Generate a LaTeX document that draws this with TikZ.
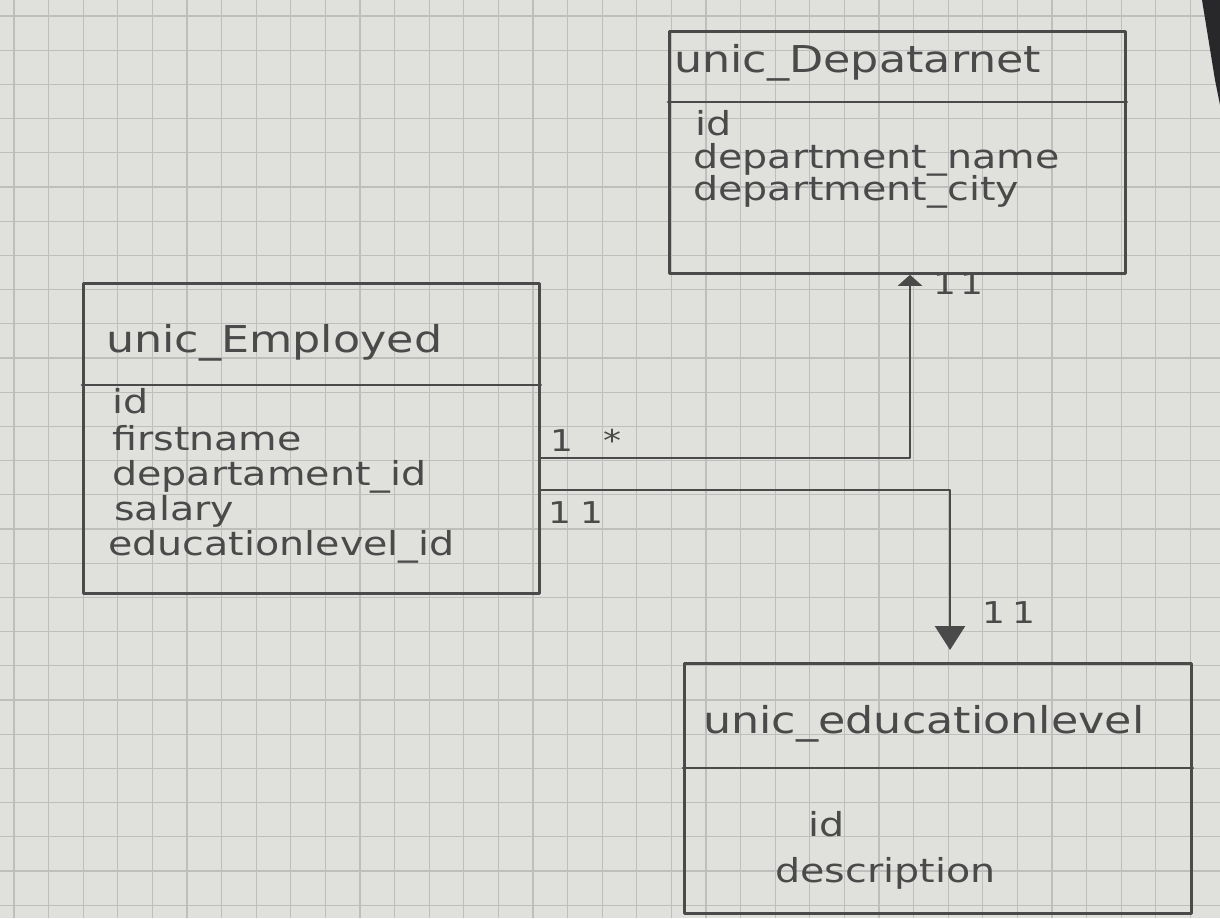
\documentclass[tikz,border=0pt]{standalone}
\usepackage{fontspec}
\setmainfont[FakeStretch=1.2]{DejaVu Sans}
\usetikzlibrary{arrows.meta}
\definecolor{paper}{RGB}{224,224,221}
\definecolor{gridline}{RGB}{190,190,188}
\definecolor{pencil}{RGB}{74,74,74}
\definecolor{deskedge}{RGB}{40,40,42}

\begin{document}
\begin{tikzpicture}[x=1pt,y=-1pt,
  pencilline/.style={draw=pencil, line width=2.8pt, line cap=round, line join=round},
  classbox/.style={pencilline, rectangle, inner sep=0pt, anchor=north west},
  title/.style={text=pencil, inner sep=0pt, anchor=base west, font=\fontsize{37}{37}\selectfont},
  attr/.style={text=pencil, inner sep=0pt, anchor=base west, font=\fontsize{33}{33}\selectfont},
  mult/.style={text=pencil, inner sep=0pt, anchor=base west, font=\fontsize{30}{30}\selectfont},
  assoc/.style={pencilline, -{Triangle[width=24pt,length=11pt]}},
  assocbig/.style={pencilline, -{Triangle[width=30pt,length=24pt]}, shorten >=12pt}]

\useasboundingbox (0,0) rectangle (1220,918);

% squared paper
\fill[paper] (0,0) rectangle (1220,918);
\foreach \k in {0,...,35}
  \draw[gridline, line width=1.1pt] ({14+34.6*\k},0) -- ({14+34.6*\k},918);
\foreach \k in {0,...,27}
  \draw[gridline, line width=1.1pt] (0,{16+34.2*\k}) -- (1220,{16+34.2*\k});
\fill[deskedge] (1202,0) -- (1220,0) -- (1220,105) -- (1215,80) -- cycle;

% class unic_Depatarnet
\node[classbox, minimum width=456pt, minimum height=242pt] (dep) at (668,30) {};
\draw[pencilline] (dep.west |- 0,102) -- (dep.east |- 0,102);
\node[title] (deptitle) at (674,72) {unic\_Depatarnet};
\node[attr] (depid)   at (695,135) {id};
\node[attr] (depname) at (693,168) {department\_name};
\node[attr] (depcity) at (693,200) {department\_city};

% class unic_Employed
\node[classbox, minimum width=456pt, minimum height=310pt] (emp) at (82,282) {};
\draw[pencilline] (emp.west |- 0,385) -- (emp.east |- 0,385);
\node[title] (emptitle) at (106,352) {unic\_Employed};
\node[attr] (empid)    at (112,413) {id};
\node[attr] (empfirst) at (112,450) {firstname};
\node[attr] (empdep)   at (112,485) {departament\_id};
\node[attr] (empsal)   at (114,520) {salary};
\node[attr] (empedu)   at (108,555) {educationlevel\_id};

% class unic_educationlevel
\node[classbox, minimum width=507pt, minimum height=250pt] (edu) at (683,662) {};
\draw[pencilline] (edu.west |- 0,768) -- (edu.east |- 0,768);
\node[title] (edutitle) at (703,733) {unic\_educationlevel};
\node[attr] (eduid)   at (808,836) {id};
\node[attr] (edudesc) at (775,882) {description};

% associations
\draw[assoc] (emp.east |- 0,458) -| (dep.south -| 910,0);
\draw[assocbig] (emp.east |- 0,490) -| (edu.north -| 950,0);

% multiplicities
\node[mult] (mdA) at (550,451) {1};
\node[mult] (mdB) at (603,451) {*};
\node[mult] (meA) at (548,523) {1};
\node[mult] (meB) at (580,523) {1};
\node[mult] (mtA) at (933,294) {1};
\node[mult] (mtB) at (960,294) {1};
\node[mult] (mlA) at (982,623) {1};
\node[mult] (mlB) at (1012,623) {1};
\end{tikzpicture}
\end{document}
